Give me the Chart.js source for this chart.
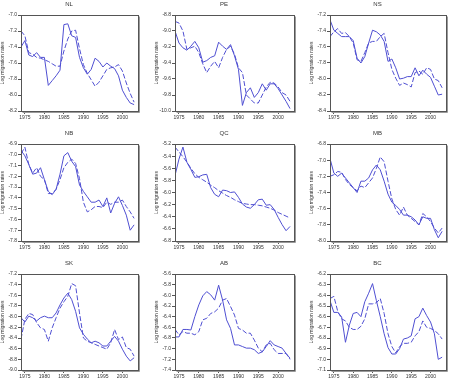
<!DOCTYPE html>
<html>
<head>
<meta charset="utf-8">
<script src="https://cdn.jsdelivr.net/npm/chart.js@4.4.1/dist/chart.umd.min.js"></script>
<style>
  html, body { margin: 0; padding: 0; background: #ffffff; }
  body { width: 451px; height: 381px; position: relative; overflow: hidden; }
  canvas { position: absolute; }
</style>
</head>
<body>
<script>
// ---------- DATA ----------
const years = [1974,1975,1976,1977,1978,1979,1980,1981,1982,1983,1984,1985,1986,1987,1988,1989,1990,1991,1992,1993,1994,1995,1996,1997,1998,1999,2000,2001,2002,2003];
const xTicks = [1975,1980,1985,1990,1995,2000];
const titles = ['NL','PE','NS','NB','QC','MB','SK','AB','BC'];
const yAxisTitle = 'Log migration rates';

const nlActual = [-7.40,-7.32,-7.50,-7.52,-7.47,-7.53,-7.53,-7.88,-7.82,-7.76,-7.69,-7.12,-7.11,-7.26,-7.28,-7.53,-7.66,-7.74,-7.68,-7.54,-7.58,-7.65,-7.60,-7.64,-7.67,-7.76,-7.94,-8.03,-8.10,-8.12];
const nlFitted = [-7.20,-7.26,-7.47,-7.49,-7.53,-7.54,-7.56,-7.58,-7.61,-7.64,-7.64,-7.45,-7.30,-7.20,-7.19,-7.42,-7.62,-7.73,-7.81,-7.89,-7.84,-7.76,-7.68,-7.66,-7.65,-7.62,-7.70,-7.85,-7.98,-8.09];
const nlTicks = [-7.0,-7.2,-7.4,-7.6,-7.8,-8.0,-8.2];

const peActual = [-9.00,-9.15,-9.21,-9.24,-9.19,-9.13,-9.21,-9.39,-9.37,-9.33,-9.31,-9.14,-9.19,-9.23,-9.17,-9.31,-9.48,-9.93,-9.77,-9.71,-9.83,-9.77,-9.66,-9.74,-9.66,-9.66,-9.72,-9.80,-9.88,-9.97];
const peFitted = [-8.88,-8.90,-9.00,-9.23,-9.21,-9.19,-9.27,-9.41,-9.52,-9.44,-9.38,-9.46,-9.33,-9.23,-9.19,-9.29,-9.46,-9.52,-9.80,-9.85,-9.90,-9.90,-9.80,-9.70,-9.64,-9.65,-9.70,-9.77,-9.80,-9.88];
const peTicks = [-8.8,-9.0,-9.2,-9.4,-9.6,-9.8,-10.0];

const nsActual = [-7.26,-7.39,-7.43,-7.47,-7.47,-7.47,-7.52,-7.74,-7.80,-7.72,-7.55,-7.39,-7.41,-7.45,-7.53,-7.78,-7.75,-7.86,-8.00,-7.99,-7.97,-7.97,-7.86,-7.96,-7.89,-7.94,-7.98,-8.09,-8.20,-8.19];
const nsFitted = [-7.47,-7.41,-7.37,-7.43,-7.42,-7.47,-7.55,-7.76,-7.78,-7.67,-7.55,-7.53,-7.53,-7.47,-7.43,-7.67,-7.88,-7.99,-8.08,-8.05,-8.07,-8.10,-7.92,-7.90,-7.94,-7.86,-7.88,-8.00,-8.02,-8.11];
const nsTicks = [-7.2,-7.4,-7.6,-7.8,-8.0,-8.2,-8.4];

const nbActual = [-6.96,-7.01,-7.09,-7.18,-7.17,-7.12,-7.23,-7.34,-7.37,-7.32,-7.18,-7.01,-6.98,-7.06,-7.11,-7.28,-7.34,-7.39,-7.44,-7.44,-7.42,-7.48,-7.40,-7.54,-7.45,-7.39,-7.47,-7.56,-7.70,-7.65];
const nbFitted = [-6.99,-6.93,-7.09,-7.17,-7.12,-7.20,-7.23,-7.36,-7.36,-7.32,-7.23,-7.12,-7.07,-7.04,-7.08,-7.22,-7.44,-7.53,-7.51,-7.48,-7.48,-7.49,-7.44,-7.46,-7.44,-7.44,-7.42,-7.48,-7.53,-7.59];
const nbTicks = [-6.9,-7.0,-7.1,-7.2,-7.3,-7.4,-7.5,-7.6,-7.7,-7.8];

const qcActual = [-5.72,-5.45,-5.25,-5.50,-5.62,-5.75,-5.74,-5.71,-5.70,-5.92,-6.03,-6.07,-5.96,-5.97,-6.00,-5.99,-6.08,-6.19,-6.24,-6.26,-6.20,-6.12,-6.11,-6.21,-6.20,-6.28,-6.41,-6.53,-6.63,-6.56];
const qcFitted = [-5.25,-5.33,-5.41,-5.50,-5.60,-5.69,-5.75,-5.79,-5.83,-5.88,-5.92,-5.97,-6.01,-6.05,-6.08,-6.12,-6.15,-6.18,-6.19,-6.20,-6.20,-6.21,-6.22,-6.24,-6.26,-6.29,-6.33,-6.36,-6.39,-6.42];
const qcTicks = [-5.2,-5.4,-5.6,-5.8,-6.0,-6.2,-6.4,-6.6,-6.8];

const mbActual = [-6.98,-7.16,-7.20,-7.16,-7.22,-7.28,-7.34,-7.40,-7.26,-7.26,-7.22,-7.12,-7.06,-7.12,-7.26,-7.42,-7.52,-7.56,-7.61,-7.68,-7.68,-7.70,-7.74,-7.80,-7.70,-7.72,-7.72,-7.86,-7.96,-7.88];
const mbFitted = [-7.20,-7.18,-7.14,-7.15,-7.24,-7.30,-7.34,-7.38,-7.32,-7.34,-7.28,-7.22,-7.10,-6.96,-7.02,-7.26,-7.48,-7.61,-7.68,-7.58,-7.68,-7.72,-7.76,-7.80,-7.66,-7.70,-7.76,-7.84,-7.90,-7.84];
const mbTicks = [-6.8,-7.0,-7.2,-7.4,-7.6,-7.8,-8.0];

const skActual = [-8.02,-8.10,-7.99,-8.02,-8.08,-8.02,-7.99,-8.02,-8.02,-7.93,-7.78,-7.65,-7.56,-7.68,-7.90,-8.21,-8.33,-8.42,-8.49,-8.46,-8.49,-8.55,-8.55,-8.46,-8.37,-8.46,-8.61,-8.74,-8.83,-8.77];
const skFitted = [-8.42,-8.05,-7.94,-7.96,-8.11,-8.21,-8.24,-8.46,-8.21,-8.02,-7.84,-7.72,-7.62,-7.38,-7.42,-7.93,-8.40,-8.46,-8.49,-8.52,-8.55,-8.58,-8.61,-8.49,-8.24,-8.43,-8.38,-8.58,-8.61,-8.74];
const skTicks = [-7.2,-7.4,-7.6,-7.8,-8.0,-8.2,-8.4,-8.6,-8.8,-9.0];

const abActual = [-6.78,-6.78,-6.64,-6.64,-6.65,-6.40,-6.18,-6.01,-5.93,-5.99,-6.09,-5.81,-6.09,-6.46,-6.62,-6.93,-6.93,-6.96,-6.99,-6.99,-7.02,-7.09,-7.06,-6.96,-6.85,-6.93,-6.96,-6.99,-7.09,-7.18];
const abFitted = [-6.64,-6.74,-6.68,-6.71,-6.71,-6.74,-6.68,-6.46,-6.43,-6.34,-6.31,-6.24,-6.09,-6.06,-6.21,-6.37,-6.62,-6.65,-6.71,-6.71,-6.84,-6.99,-7.06,-6.93,-6.90,-7.02,-7.09,-7.09,-7.09,-7.20];
const abTicks = [-5.6,-5.8,-6.0,-6.2,-6.4,-6.6,-6.8,-7.0,-7.2,-7.4];

const bcActual = [-6.45,-6.56,-6.56,-6.60,-6.84,-6.68,-6.57,-6.56,-6.60,-6.46,-6.38,-6.29,-6.45,-6.60,-6.76,-6.89,-6.95,-6.95,-6.90,-6.81,-6.80,-6.78,-6.62,-6.60,-6.52,-6.59,-6.65,-6.76,-7.00,-6.98];
const bcFitted = [-6.43,-6.41,-6.55,-6.62,-6.64,-6.70,-6.72,-6.72,-6.69,-6.62,-6.48,-6.48,-6.47,-6.43,-6.57,-6.76,-6.88,-6.94,-6.88,-6.85,-6.85,-6.84,-6.78,-6.74,-6.64,-6.70,-6.71,-6.73,-6.76,-6.81];
const bcTicks = [-6.2,-6.3,-6.4,-6.5,-6.6,-6.7,-6.8,-6.9,-7.0,-7.1];

const actualSeries = [nlActual, peActual, nsActual, nbActual, qcActual, mbActual, skActual, abActual, bcActual];
const fittedSeries = [nlFitted, peFitted, nsFitted, nbFitted, qcFitted, mbFitted, skFitted, abFitted, bcFitted];
const tickSets = [nlTicks, peTicks, nsTicks, nbTicks, qcTicks, mbTicks, skTicks, abTicks, bcTicks];

// ---------- LAYOUT (plot-area pixel boxes) ----------
const colPlot = [[21,138],[175,294],[330,446]];
const rowPlot = [[15,111],[144,241],[274,370]];
const Y_AXIS_W = 21, TOP_SPACE = 15, X_AXIS_H = 14, RIGHT_PAD = 6;

const lineColor = '#4f4fd2';
const textColor = '#333333';
const axisColor = '#555555';
const fontFamily = "'Liberation Sans', Arial, sans-serif";

const framePlugin = {
  id: 'frame',
  afterDraw(chart) {
    const {ctx, chartArea: a} = chart;
    const l = Math.round(a.left) + 0.5, t = Math.round(a.top) + 0.5;
    const r = Math.round(a.right) + 0.5, b = Math.round(a.bottom) + 0.5;
    ctx.save();
    ctx.strokeStyle = axisColor;
    ctx.lineWidth = 1;
    ctx.strokeRect(l, t, r - l, b - t);
    ctx.strokeStyle = '#9a9a9a';
    ctx.beginPath();
    ctx.moveTo(r + 1, t + 1);
    ctx.lineTo(r + 1, b + 1);
    ctx.lineTo(l + 1, b + 1);
    ctx.stroke();
    ctx.restore();
  }
};

titles.forEach((title, i) => {
  const col = i % 3, row = Math.floor(i / 3);
  const [pl, pr] = colPlot[col];
  const [pt, pb] = rowPlot[row];
  const left = pl - Y_AXIS_W;
  const top = pt - TOP_SPACE;
  const width = (pr - pl) + Y_AXIS_W + RIGHT_PAD;
  const height = (pb - pt) + TOP_SPACE + X_AXIS_H;
  const cv = document.createElement('canvas');
  cv.width = width; cv.height = height;
  cv.style.left = left + 'px'; cv.style.top = top + 'px';
  cv.style.width = width + 'px'; cv.style.height = height + 'px';
  document.body.appendChild(cv);

  const ticks = tickSets[i];
  const yMax = ticks[0], yMin = ticks[ticks.length - 1];

  new Chart(cv, {
    type: 'line',
    data: {
      datasets: [
        {
          data: years.map((y, k) => ({x: y, y: actualSeries[i][k]})),
          borderColor: lineColor, borderWidth: 1, pointRadius: 0, tension: 0, fill: false
        },
        {
          data: years.map((y, k) => ({x: y, y: fittedSeries[i][k]})),
          borderColor: lineColor, borderWidth: 1, borderDash: [5, 2], pointRadius: 0, tension: 0, fill: false
        }
      ]
    },
    options: {
      responsive: false,
      animation: false,
      devicePixelRatio: 1,
      layout: { padding: { left: 0, top: 0, right: RIGHT_PAD, bottom: 0 } },
      plugins: {
        legend: { display: false },
        tooltip: { enabled: false },
        title: {
          display: true, text: title, color: textColor,
          font: { family: fontFamily, size: 6, weight: 'normal', lineHeight: 1.2 },
          padding: { top: 1, bottom: TOP_SPACE - 1 - 7.2 }
        }
      },
      scales: {
        x: {
          type: 'linear', min: 1974, max: 2004,
          afterBuildTicks: s => { s.ticks = xTicks.map(v => ({value: v})); },
          afterFit: s => { s.height = X_AXIS_H; },
          ticks: {
            color: textColor, font: { family: fontFamily, size: 5 }, padding: 1,
            maxRotation: 0, autoSkip: false,
            callback: v => String(v)
          },
          grid: { display: true, drawOnChartArea: false, drawTicks: true, tickLength: 3, color: axisColor },
          border: { display: true, color: axisColor }
        },
        y: {
          type: 'linear', min: yMin, max: yMax,
          afterBuildTicks: s => { s.ticks = ticks.map(v => ({value: v})); },
          afterFit: s => { s.width = Y_AXIS_W; },
          title: {
            display: true, text: yAxisTitle, color: textColor,
            font: { family: fontFamily, size: 5, lineHeight: 1.2 }, padding: 0
          },
          ticks: {
            color: textColor, font: { family: fontFamily, size: 5 }, padding: 1,
            autoSkip: false,
            callback: v => Number(v).toFixed(1)
          },
          grid: { display: true, drawOnChartArea: false, drawTicks: true, tickLength: 3, color: axisColor },
          border: { display: true, color: axisColor }
        }
      }
    },
    plugins: [framePlugin]
  });
});
</script>
</body>
</html>
